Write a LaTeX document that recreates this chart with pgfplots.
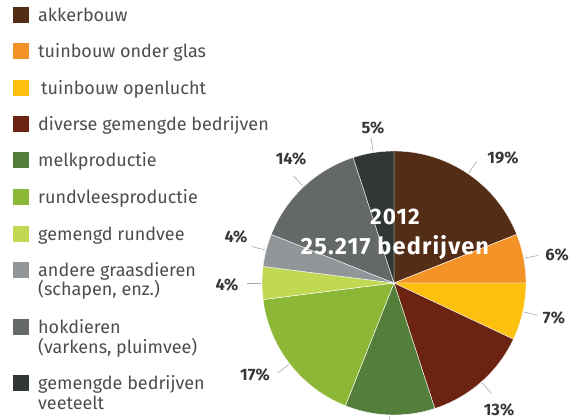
\documentclass[border=0pt]{standalone}
\usepackage{fontspec}
\setmainfont{Fira Sans}
\newfontfamily\widefont[LetterSpace=5]{Fira Sans}
\usepackage{pgfplots}
\pgfplotsset{compat=1.18}
\definecolor{cA}{HTML}{532D16}
\definecolor{cB}{HTML}{F39226}
\definecolor{cC}{HTML}{FEC00F}
\definecolor{cD}{HTML}{6B2412}
\definecolor{cE}{HTML}{547F3A}
\definecolor{cF}{HTML}{8DB837}
\definecolor{cG}{HTML}{C1D852}
\definecolor{cH}{HTML}{939698}
\definecolor{cI}{HTML}{646869}
\definecolor{cJ}{HTML}{313637}
\definecolor{legtxt}{HTML}{4B4D4F}
\definecolor{pcttxt}{HTML}{35373A}
\tikzset{pct/.style={font=\bfseries\fontsize{16.5}{16.5}\selectfont, text=pcttxt, inner sep=0pt},
  lead/.style={draw=gray!70, line width=0.6pt},
  legt/.style={font=\fontsize{18}{18}\selectfont, text=legtxt, anchor=base west, inner sep=0pt}}
\def\cum{0}
% #1 percentage, #2 colour, #3 label position (x,y in px from top-left) or empty
\newcommand\slice[3]{%
  \pgfmathsetmacro\hi{90-3.6*\cum}%
  \pgfmathsetmacro\tmp{\cum+#1}%
  \xdef\cum{\tmp}%
  \pgfmathsetmacro\lo{90-3.6*\cum}%
  \pgfmathsetmacro\md{(\hi+\lo)/2}%
  \edef\doit{\noexpand\addplot[fill=#2,draw=white,line width=0.4pt,domain=\lo:\hi,samples=80] ({394+132*cos(x)},{137+132*sin(x)}) -- (axis cs:394,137) -- cycle;
    \noexpand\draw[lead] ([shift={(\md:133pt)}]axis cs:394,137) -- ([shift={(\md:147pt)}]axis cs:394,137);}%
  \doit
  \if\relax\detokenize{#3}\relax\else\lbl{#1}#3\fi
}
\def\lbl#1(#2,#3){\node[pct] at (axis cs:#2,{420-#3}) {#1\%};}
\newcommand\leg[3]{% center y (px), colour, text
  \fill[#2] (axis cs:13,{420-#1-8}) rectangle (axis cs:29,{420-#1+8});
  \node[legt] at (axis cs:38,{420-#1-6.3}) {#3};
}
\begin{document}
\begin{tikzpicture}
\begin{axis}[x=1pt,y=1pt,xmin=0,xmax=571,ymin=0,ymax=420,hide axis,clip=false,anchor=origin,at={(0,0)}]
\slice{19}{cA}{(503,158)}
\slice{6}{cB}{(557,255)}
\slice{7}{cC}{(554,318)}
\slice{13}{cD}{(499,410)}
\slice{11}{cE}{}
\slice{17}{cF}{(255,375)}
\slice{4}{cG}{(227,285)}
\slice{4}{cH}{(236,237)}
\slice{14}{cI}{(291,159)}
\slice{5}{cJ}{(373,128)}
\node[text=white, font=\widefont\bfseries\fontsize{22.5}{22.5}\selectfont, anchor=base] at (axis cs:395,{420-224.5}) {2012};
\node[text=white, font=\widefont\bfseries\fontsize{23.5}{23.5}\selectfont, anchor=base] at (axis cs:395,{420-255}) {25.217 bedrijven};
\leg{15}{cA}{akkerbouw}
\leg{51}{cB}{tuinbouw onder glas}
\leg{88}{cC}{\,tuinbouw openlucht}
\leg{124}{cD}{diverse gemengde bedrijven}
\leg{160}{cE}{melkproductie}
\leg{197}{cF}{rundvleesproductie}
\leg{234}{cG}{gemengd rundvee}
\leg{270}{cH}{andere graasdieren}
\node[legt] at (axis cs:38,{420-296}) {(schapen, enz.)};
\leg{327}{cI}{hokdieren}
\node[legt] at (axis cs:38,{420-354}) {(varkens, pluimvee)};
\leg{383}{cJ}{gemengde bedrijven}
\node[legt] at (axis cs:38,{420-410}) {veeteelt};
\coordinate (bl) at (axis cs:0,0);
\coordinate (tr) at (axis cs:571,420);
\end{axis}
\pgfresetboundingbox
\useasboundingbox (bl) rectangle (tr);
\end{tikzpicture}
\end{document}
